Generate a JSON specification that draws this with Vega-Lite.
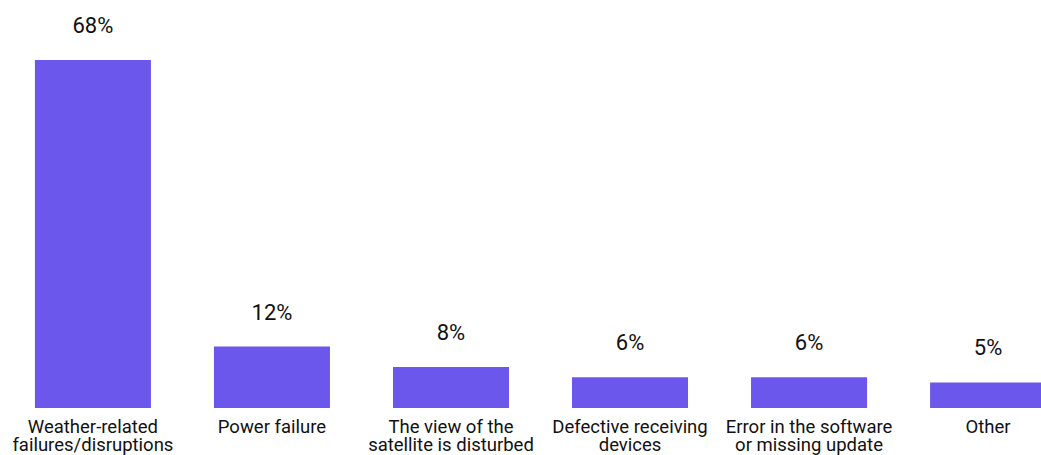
{
  "$schema": "https://vega.github.io/schema/vega-lite/v6.json",
  "autosize": "none",
  "padding": {"left": 0, "top": 0, "right": 0, "bottom": 47},
  "width": 1041,
  "height": 408,
  "background": "white",
  "config": {"view": {"stroke": null}, "font": "Roboto"},
  "data": {"values": [
    {"cause": "Weather-related|failures/disruptions", "value": 68},
    {"cause": "Power failure", "value": 12},
    {"cause": "The view of the|satellite is disturbed", "value": 8},
    {"cause": "Defective receiving|devices", "value": 6},
    {"cause": "Error in the software|or missing update", "value": 6},
    {"cause": "Other", "value": 5}
  ]},
  "encoding": {
    "x": {"field": "cause", "type": "nominal", "sort": null,
      "scale": {"range": [0, 1081], "paddingInner": 0.352, "paddingOuter": 0.195},
      "axis": {"title": null, "labelAngle": 0, "domain": false, "ticks": false,
        "labelExpr": "split(datum.label, '|')", "labelFontSize": 18.5, "labelLineHeight": 18,
        "labelColor": "#111111", "labelPadding": 9, "labelLimit": 0}},
    "y": {"field": "value", "type": "quantitative",
      "scale": {"domain": [0, 79.7]}, "axis": null}
  },
  "layer": [
    {"mark": {"type": "bar", "color": "#6c57ec"}},
    {"transform": [{"calculate": "datum.value + '%'", "as": "pct"}],
     "mark": {"type": "text", "baseline": "alphabetic", "dy": -27, "fontSize": 22, "color": "#111111"},
     "encoding": {"text": {"field": "pct", "type": "nominal"}}}
  ]
}
